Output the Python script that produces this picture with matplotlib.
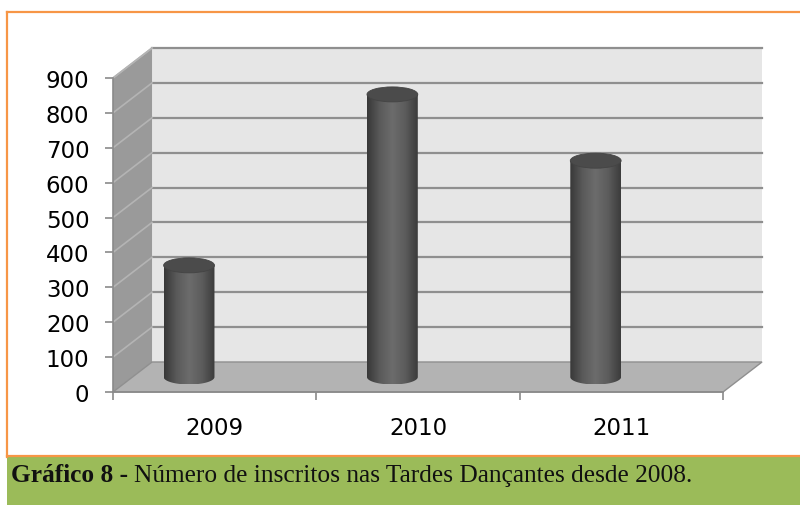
import numpy as np
import matplotlib
matplotlib.use("Agg")
import matplotlib.pyplot as plt
from matplotlib.patches import Polygon, Ellipse, Rectangle
from matplotlib.colors import LinearSegmentedColormap

years = ["2009", "2010", "2011"]
inscritos = [320, 810, 620]
yticks = list(range(0, 1000, 100))
caption_bold = "Gráfico 8 - "
caption_text = "Número de inscritos nas Tardes Dançantes desde 2008."

fig = plt.figure(figsize=(8, 5.06), dpi=100)
ax = fig.add_axes([113 / 800, 113 / 506, 610 / 800, 314 / 506])
ax.set_xlim(0, 3)
ax.set_ylim(0, 900)

# depth of the fake 3d box in data units
ddx, ddy = 0.192, 86

# back wall, floor, side wall
ax.add_patch(Polygon([(ddx, ddy), (3 + ddx, ddy), (3 + ddx, 900 + ddy), (ddx, 900 + ddy)],
                     closed=True, fc="#e6e6e6", ec="none", zorder=1, clip_on=False))
for v in yticks[1:]:
    ax.plot([ddx, 3 + ddx], [v + ddy, v + ddy], color="#8f8f8f", lw=1.6, zorder=2, clip_on=False)
    ax.plot([0, ddx], [v, v + ddy], color="#b4b4b4", lw=1.2, zorder=4, clip_on=False)
ax.add_patch(Polygon([(0, 0), (ddx, ddy), (ddx, 900 + ddy), (0, 900)],
                     closed=True, fc="#9a9a9a", ec="none", zorder=3, clip_on=False))
ax.add_patch(Polygon([(0, 0), (3, 0), (3 + ddx, ddy), (ddx, ddy)],
                     closed=True, fc="#b3b3b3", ec="#8f8f8f", lw=1.0, zorder=3, clip_on=False))
ax.plot([0, ddx], [900, 900 + ddy], color="#b4b4b4", lw=1.2, zorder=4, clip_on=False)

# cylinders
cmap = LinearSegmentedColormap.from_list("cyl", ["#383838", "#5a5a5a", "#6c6c6c", "#5c5c5c", "#3c3c3c"])
grad = np.linspace(0, 1, 200).reshape(1, -1)
w = 0.25
b = 21.5
base = ddy / 2
for i, v in enumerate(inscritos):
    xc = i + 0.374
    top = base + v
    t = np.linspace(np.pi, 2 * np.pi, 60)
    arc = np.column_stack([xc + w / 2 * np.cos(t), base + b * np.sin(t)])
    pts = np.vstack([[xc - w / 2, top], arc, [xc + w / 2, top]])
    body = Polygon(pts, closed=True, fc="none", ec="none", zorder=5, clip_on=False)
    ax.add_patch(body)
    im = ax.imshow(grad, cmap=cmap, extent=[xc - w / 2, xc + w / 2, base - b, top],
                   aspect="auto", zorder=5, interpolation="bilinear")
    im.set_clip_path(body)
    ax.add_patch(Ellipse((xc, top), w, 2 * b, fc="#4b4b4b", ec="#444444", lw=0.6,
                         zorder=6, clip_on=False))

ax.set_xlim(0, 3)
ax.set_ylim(0, 900)

# axes and ticks
for s in ["top", "right"]:
    ax.spines[s].set_visible(False)
for s in ["left", "bottom"]:
    ax.spines[s].set_color("#8a8a8a")
    ax.spines[s].set_linewidth(1.2)
    ax.spines[s].set_zorder(7)
ax.set_yticks(yticks)
ax.tick_params(axis="y", length=6, width=1.2, color="#8a8a8a", labelsize=16.5, pad=11)
ax.set_xticks([0, 1, 2, 3])
ax.set_xticklabels([])
ax.tick_params(axis="x", which="major", length=6, width=1.2, color="#8a8a8a")
ax.set_xticks([0.5, 1.5, 2.5], minor=True)
ax.set_xticklabels(years, minor=True)
ax.tick_params(axis="x", which="minor", length=0, labelsize=16.5, pad=17)
ax.set_facecolor("none")

# page frame and caption
orange = "#f79646"
fig.patches.append(Rectangle((7 / 800, 0), 1, 48 / 506, transform=fig.transFigure,
                             fc="#9bbb59", ec="none", zorder=0))
fig.lines.append(plt.Line2D([7 / 800, 1], [493 / 506, 493 / 506], transform=fig.transFigure,
                            color=orange, lw=1.6))
fig.lines.append(plt.Line2D([7 / 800, 7 / 800], [48 / 506, 493 / 506], transform=fig.transFigure,
                            color=orange, lw=1.6))
fig.lines.append(plt.Line2D([7 / 800, 1], [49 / 506, 49 / 506], transform=fig.transFigure,
                            color=orange, lw=1.6))

cap_font = "Liberation Serif"
cap_size = 16
t1 = fig.text(11 / 800, 24 / 506, caption_bold, fontsize=cap_size, fontweight="bold",
              family=cap_font, va="baseline", color="#111111", zorder=5)
renderer = fig.canvas.get_renderer()
bb = t1.get_window_extent(renderer)
t2 = fig.text(bb.x1 / 800, 24 / 506, caption_text, fontsize=cap_size,
              family=cap_font, va="baseline", color="#111111", zorder=5)
# fit caption width to the reference (ends around x=693 px)
end = t2.get_window_extent(renderer).x1
scale = (693 - 11) / (end - 11)
t1.set_fontsize(cap_size * scale)
t2.set_fontsize(cap_size * scale)
bb = t1.get_window_extent(renderer)
t2.set_x(bb.x1 / 800)

fig.savefig("out.png", dpi=100)
